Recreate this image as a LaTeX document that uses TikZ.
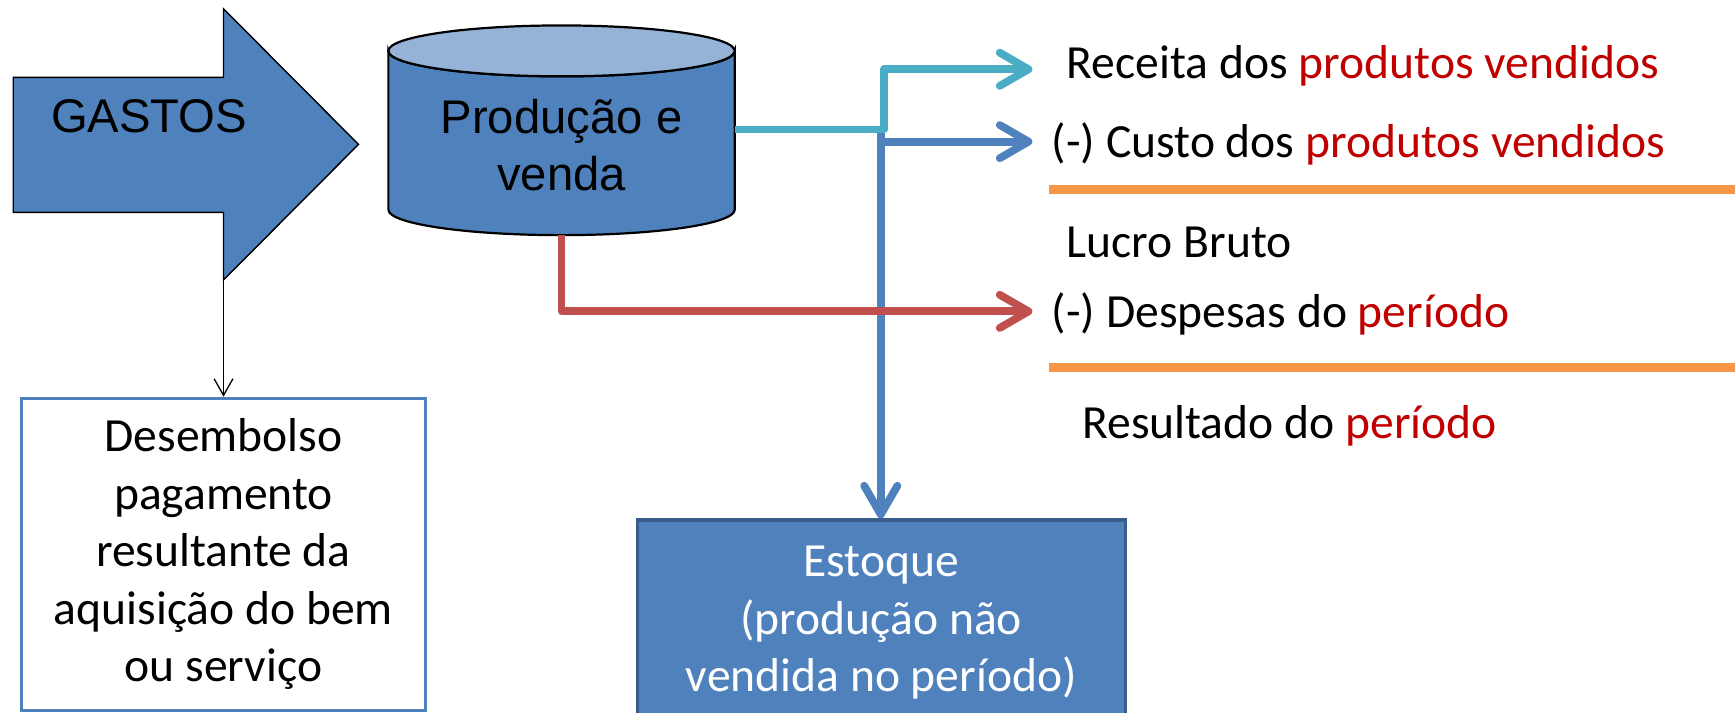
\documentclass[tikz,border=0pt]{standalone}
\usepackage{fontspec}
\setmainfont{Carlito}
\newfontfamily\arialf{Liberation Sans}
\usetikzlibrary{arrows.meta}
\definecolor{cblue}{HTML}{4F81BD}
\definecolor{ctop}{HTML}{95B3D7}
\definecolor{ccyan}{HTML}{4BACC6}
\definecolor{cred}{HTML}{C0504D}
\definecolor{corange}{HTML}{F79646}
\definecolor{ctred}{HTML}{C00000}
\definecolor{cdark}{HTML}{385D8A}
\begin{document}
\begin{tikzpicture}[x=1pt,y=-1pt,
  cal/.style={font=\fontsize{43}{52}\selectfont},
  ari/.style={font=\arialf\fontsize{42.7}{51.5}\selectfont},
  rtext/.style={cal, anchor=base west, inner sep=0pt},
  flow/.style={line width=7pt, line join=round, -{Straight Barb[length=26pt,width=30pt,round]}},
  rule/.style={corange, line width=8pt},
  thin/.style={line width=1.2pt, -{Straight Barb[length=15pt,width=17pt]}},
]
\useasboundingbox (0,0) rectangle (1568,644);

% GASTOS block arrow
\filldraw[fill=cblue, draw=black, line width=1.3pt] (12,70) -- (202,70) -- (202,8) -- (324,130.5) -- (202,253) -- (202,192) -- (12,192) -- cycle;
\coordinate (gbot) at (202,253);
\node[ari, anchor=base west, inner sep=0pt] (gastos) at (46,120) {GASTOS};

% cylinder
\filldraw[fill=cblue, draw=black, line width=2pt] (351,46) -- (351,189.5) arc[start angle=180, end angle=0, x radius=156.5, y radius=23] -- (664,46) arc[start angle=0, end angle=180, x radius=156.5, y radius=23] -- cycle;
\filldraw[fill=ctop, draw=black, line width=2pt] (507.5,46) ellipse [x radius=156.5, y radius=23];
\coordinate (cylE) at (664,117);
\coordinate (cylS) at (507.5,212.5);
\node[ari, align=center, inner sep=0pt] (prod) at (507.5,130.75) {Produção e\\venda};

% Desembolso box
\node[draw=cblue, line width=3pt, fill=white, minimum width=365pt, minimum height=282pt, inner sep=0pt, cal, align=center] (des) at (202,501) {Desembolso\\pagamento\\resultante da\\aquisição do bem\\ou serviço};
\draw[thin] (gbot) -- (gbot |- des.north);

% Estoque box
\node[draw=cdark, line width=3pt, fill=cblue, text=white, minimum width=441pt, minimum height=186pt, inner sep=0pt, cal, align=center] (est) at (796.5,563) {Estoque\\(produção não\\vendida no período)};

% right texts
\node[rtext] (rec) at (964,70.5) {Receita dos \textcolor{ctred}{produtos vendidos}};
\node[rtext] (cus) at (950.5,142) {(-) Custo dos \textcolor{ctred}{produtos vendidos}};
\node[rtext] (luc) at (964,233) {Lucro Bruto};
\node[rtext] (desp) at (950.5,296) {(-) Despesas do \textcolor{ctred}{período}};
\node[rtext] (res) at (978,396) {Resultado do \textcolor{ctred}{período}};

% orange rules
\draw[rule] (948,171.2) -- (1568,171.2);
\draw[rule] (948,332) -- (1568,332);

% connectors
\coordinate (bv) at (796,120);
\coordinate (bj) at (796,128);
\coordinate (cusEnd) at (933,128);
\coordinate (cyc) at (799,62.6);
\coordinate (recEnd) at (933,62.6);
\coordinate (despEnd) at (933,281.4);
\draw[flow, cblue] (bv) -- (bv |- est.north);
\draw[flow, cblue] (bj) -- (cusEnd);
\draw[flow, ccyan] (cylE) -| (cyc) -- (recEnd);
\draw[flow, cred] (cylS) |- (despEnd);
\end{tikzpicture}
\end{document}
